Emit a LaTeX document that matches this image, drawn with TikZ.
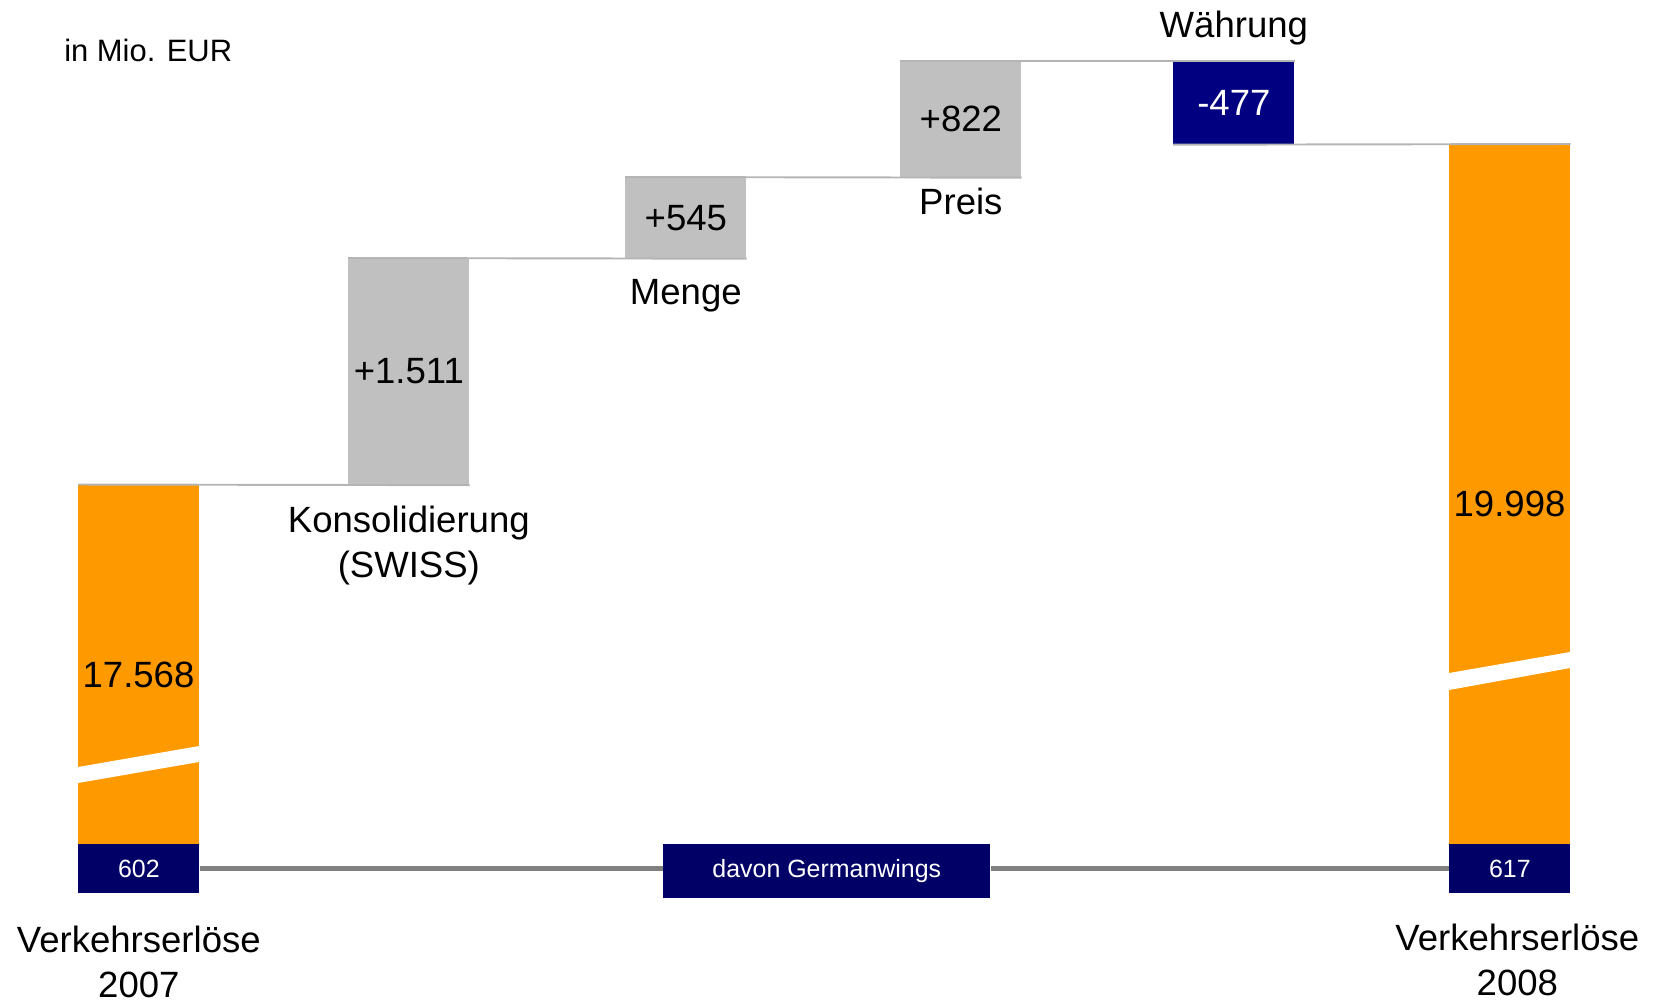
\documentclass[tikz,border=0pt]{standalone}
\usepackage{fontspec}
\setmainfont{Liberation Sans}
\usetikzlibrary{positioning}

\definecolor{lhorange}{HTML}{FF9900}
\definecolor{lhgray}{HTML}{C0C0C0}
\definecolor{lhnavy}{HTML}{000066}
\definecolor{lhblue}{HTML}{000080}
\definecolor{linkgray}{HTML}{B4B4B4}
\definecolor{gwgray}{HTML}{808080}

\begin{document}
\begin{tikzpicture}[x=0.02cm,y=-0.02cm,
    bar/.style={anchor=north west, inner sep=0pt, minimum width=2.42cm,
        font=\fontsize{20.8}{25.6}\selectfont},
    gwbox/.style={bar, fill=lhnavy, text=white, minimum height=0.98cm,
        font=\fontsize{14.2}{17}\selectfont},
    val/.style={inner sep=0pt, font=\fontsize{20.8}{25.6}\selectfont},
    cat/.style={inner sep=0pt, align=center, font=\fontsize{20.8}{25.6}\selectfont},
    link/.style={linkgray, line width=1.1pt},
    gwline/.style={gwgray, line width=2.8pt}]
    \useasboundingbox (0,0) rectangle (1655,1002);

    % Unit
    \node[anchor=west, inner sep=0pt, font=\fontsize{17.6}{21}\selectfont] (unit) at (64,50) {in Mio. EUR};

    % Bars
    \node[bar, fill=lhorange, minimum height=7.19cm] (v07) at (78,484.5) {};
    \node[bar, fill=lhgray, minimum height=4.53cm] (kons) at (348,258) {+1.511};
    \node[bar, fill=lhgray, minimum height=1.62cm] (menge) at (625,177) {+545};
    \node[bar, fill=lhgray, minimum height=2.32cm] (preis) at (900,61) {+822};
    \node[bar, fill=lhblue, text=white, minimum height=1.66cm] (wahr) at (1173,61) {-477};
    \node[bar, fill=lhorange, minimum height=14.0cm] (v08) at (1449,144) {};

    % Breaks in the orange bars
    \fill[white] (78,767) -- (199,746) -- (199,762) -- (78,783) -- cycle;
    \fill[white] (1449,673) -- (1570,652) -- (1570,668) -- (1449,690) -- cycle;

    % Values of the orange bars
    \node[val] (v07val) at (138.5,675) {17.568};
    \node[val] (v08val) at (1509.5,503.5) {19.998};

    % Connectors
    \draw[link] (v07.north west) -- (kons.south east);
    \draw[link] (kons.north west) -- (menge.south east);
    \draw[link] (menge.north west) -- (preis.south east);
    \draw[link] (preis.north west) -- (wahr.north east);
    \draw[link] (wahr.south west) -- (v08.north east);

    % Germanwings
    \node[gwbox] (g07) at (78,844) {602};
    \node[gwbox] (g08) at (1449,844) {617};
    \node[gwbox, minimum width=6.54cm, minimum height=1.08cm] (gw) at (663,844) {davon Germanwings};
    \draw[gwline] (g07.east) -- (g07.east -| gw.west);
    \draw[gwline] (g08.west -| gw.east) -- (g08.west);

    % Labels
    \node[cat, below=0.41cm of kons] (konslbl) {Konsolidierung\\(SWISS)};
    \node[cat, below=0.41cm of menge] (mengelbl) {Menge};
    \node[cat, below=0.2cm of preis] (preislbl) {Preis};
    \node[cat, anchor=base] (wahrlbl) at ([yshift=0.48cm]wahr.north) {Währung};
    \node[cat, below=0.64cm of g07] (v07lbl) {Verkehrserlöse\\2007};
    \node[cat, below=0.6cm of g08, xshift=0.15cm] (v08lbl) {Verkehrserlöse\\2008};
\end{tikzpicture}
\end{document}
